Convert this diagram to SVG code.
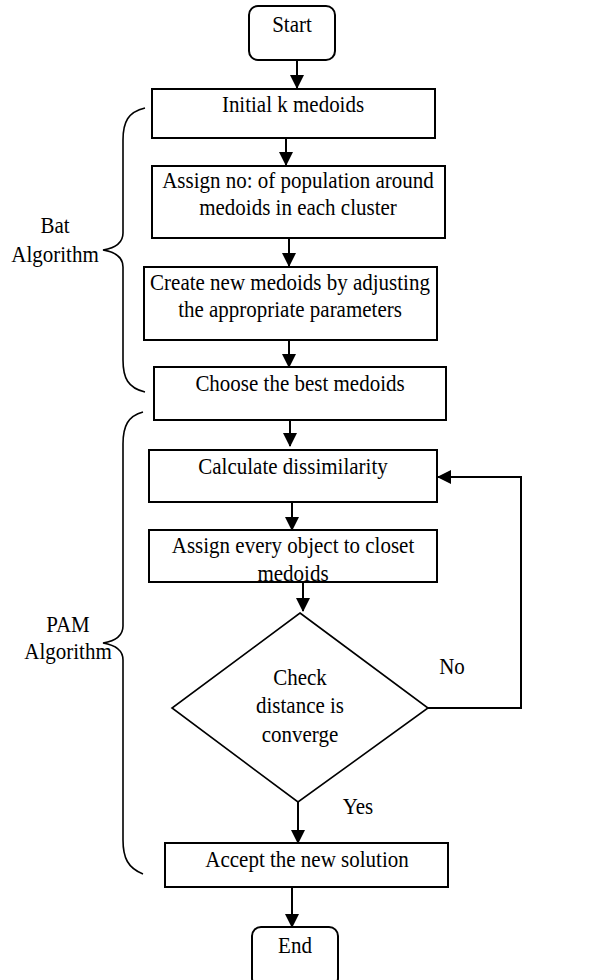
<svg xmlns="http://www.w3.org/2000/svg" width="603" height="980" viewBox="0 0 603 980">
<style>
.box{fill:#fff;stroke:#000;stroke-width:2}
.dia{fill:#fff;stroke:#000;stroke-width:1.6}
.t{font-family:"Liberation Serif","Times New Roman",serif;font-size:21px;fill:#000;text-anchor:middle}
.c{fill:none;stroke:#000;stroke-width:2}
.br{fill:none;stroke:#000;stroke-width:1.6}
</style>
<defs>
<marker id="ah" markerUnits="userSpaceOnUse" markerWidth="14" markerHeight="16" refX="13" refY="7" orient="auto">
<path d="M0,0 L14,7 L0,14 Z" fill="#000"/>
</marker>
</defs>
<rect width="603" height="980" fill="#fff"/>
<g id="braces">
<path class="br" d="M145,108 C128,112 123,122 123,140 L123,233 C123,243 115,248 103,250 C115,252 123,257 123,267 L123,360 C123,378 128,388 145,392"/>
<path class="br" d="M143,412 C128,416 123,426 123,444 L123,626 C123,636 115,641 103,643 C115,645 123,650 123,660 L123,840 C123,858 128,868 143,874"/>
</g>
<g id="start"><rect class="box" x="249" y="6" width="86" height="54" rx="9"/><text class="t" transform="matrix(1,0,0,1.12,292,32)">Start</text></g>
<g id="initial"><rect class="box" x="152" y="89" width="283" height="49"/><text class="t" transform="matrix(1,0,0,1.12,293,112)">Initial k medoids</text></g>
<g id="assign"><rect class="box" x="152" y="166" width="293" height="72"/><text class="t" transform="matrix(1,0,0,1.12,298,188)">Assign no: of population around</text><text class="t" transform="matrix(1,0,0,1.12,298,215)">medoids in each cluster</text></g>
<g id="create"><rect class="box" x="144" y="267" width="293" height="73"/><text class="t" transform="matrix(1,0,0,1.12,290,290)">Create new medoids by adjusting</text><text class="t" transform="matrix(1,0,0,1.12,290,317)">the appropriate parameters</text></g>
<g id="choose"><rect class="box" x="154" y="367" width="292" height="53"/><text class="t" transform="matrix(1,0,0,1.12,300,391)">Choose the best medoids</text></g>
<g id="calc"><rect class="box" x="149" y="450" width="288" height="52"/><text class="t" transform="matrix(1,0,0,1.12,293,474)">Calculate dissimilarity</text></g>
<g id="assignobj"><rect class="box" x="149" y="530" width="288" height="52"/><text class="t" transform="matrix(1,0,0,1.12,293,553)">Assign every object to closet</text><text class="t" transform="matrix(1,0,0,1.12,293,581)">medoids</text></g>
<g id="check"><path class="dia" d="M300,613 L428,708 L298,802 L172,708 Z"/><text class="t" transform="matrix(1,0,0,1.12,300,685)">Check</text><text class="t" transform="matrix(1,0,0,1.12,300,713)">distance is</text><text class="t" transform="matrix(1,0,0,1.12,300,742)">converge</text></g>
<g id="accept"><rect class="box" x="165" y="843" width="283" height="44"/><text class="t" transform="matrix(1,0,0,1.12,307,867)">Accept the new solution</text></g>
<g id="end"><rect class="box" x="252" y="927" width="86" height="60" rx="9"/><text class="t" transform="matrix(1,0,0,1.12,295,953)">End</text></g>
<g id="labels">
<text class="t" transform="matrix(1,0,0,1.12,55,233)">Bat</text><text class="t" transform="matrix(1,0,0,1.12,55,262)">Algorithm</text>
<text class="t" transform="matrix(1,0,0,1.12,68,632)">PAM</text><text class="t" transform="matrix(1,0,0,1.12,68,659)">Algorithm</text>
<text class="t" transform="matrix(1,0,0,1.12,452,674)">No</text><text class="t" transform="matrix(1,0,0,1.12,358,814)">Yes</text>
</g>
<g id="connectors">
<path class="c" d="M297,60 L297,88" marker-end="url(#ah)"/>
<path class="c" d="M286,138 L286,165" marker-end="url(#ah)"/>
<path class="c" d="M289,238 L289,266" marker-end="url(#ah)"/>
<path class="c" d="M289,340 L289,367" marker-end="url(#ah)"/>
<path class="c" d="M290,420 L290,446" marker-end="url(#ah)"/>
<path class="c" d="M292,502 L292,530" marker-end="url(#ah)"/>
<path class="c" d="M303,582 L303,611" marker-end="url(#ah)"/>
<path class="c" d="M428,708 L521,708 L521,477 L438,477" marker-end="url(#ah)"/>
<path class="c" d="M298,802 L298,843" marker-end="url(#ah)"/>
<path class="c" d="M292,887 L292,927" marker-end="url(#ah)"/>
</g>
</svg>
